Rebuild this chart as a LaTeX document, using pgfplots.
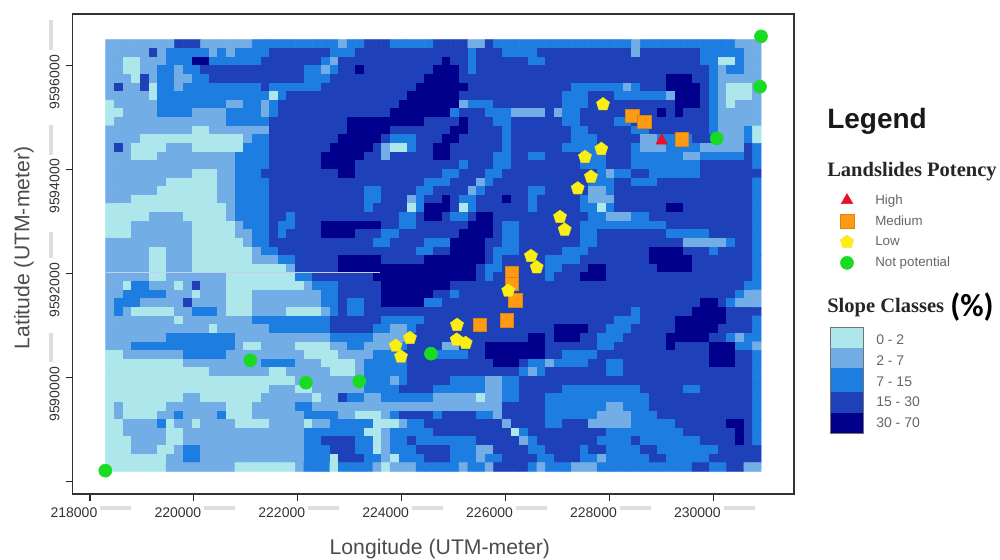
\documentclass[border=0pt]{standalone}
\usepackage{fontspec}
\setmainfont{Liberation Sans}
\newfontfamily\lserif{Liberation Serif}
\newfontfamily\carl{Carlito}
\usepackage{pgfplots}
\pgfplotsset{compat=1.18}
\usetikzlibrary{plotmarks}
\definecolor{cA}{RGB}{173,230,235}
\definecolor{cB}{RGB}{115,173,230}
\definecolor{cC}{RGB}{30,125,225}
\definecolor{cD}{RGB}{30,65,185}
\definecolor{cE}{RGB}{0,0,140}
\definecolor{mRed}{RGB}{232,16,42}
\definecolor{mOrange}{RGB}{255,154,20}
\definecolor{mYellow}{RGB}{250,238,20}
\definecolor{mGreen}{RGB}{26,219,36}
\newcount\coli \newcount\rowi
\newtoks\gridtoks \newtoks\rowtoks
\def\emit#1{\edef\tmp{\the\rowtoks\the\numexpr218385+166*\coli\relax\space\the\numexpr9596417-166*\rowi\relax\space#1\noexpand\\}\rowtoks\expandafter{\tmp}\advance\coli 1 \def\lastc{#1}}
\def\parse#1{\ifx#1\relax\else\ifnum\coli<\limit\relax\emit{#1}\fi\expandafter\parse\fi}
\def\pad{\ifnum\coli<\limit\relax\expandafter\emit\expandafter{\lastc}\expandafter\pad\fi}
\def\R#1#2{\coli=0 \rowtoks{}\def\limit{38}\parse#1\relax\pad\def\limit{76}\parse#2\relax\pad
 \edef\tmp{\the\gridtoks\the\rowtoks}\gridtoks\expandafter{\tmp}\advance\rowi 1 }
% slope class of every raster cell: 0 = 0-2, 1 = 2-7, 2 = 7-15, 3 = 15-30, 4 = 30-70
\R{11111111333111111222222222212233322222}{33331132222222222222222122222222222111}
\R{11111312222212122223333333222333333333}{33332333222233333333333133333332222211}
\R{11001112224422222233333332133333333333}{34332333333223333333333333333332200211}
\R{11001122122333333333333221233433333333}{44432333333333333333333333333333212211}
\R{11103122112233333333333222333333333334}{44433333333333333333333333344433211111}
\R{13113022122222222232222223333333333344}{44443333333333332222221233344443210001}
\R{11111022222222222220233333333333333444}{44433333333333322233322222214443210001}
\R{01111122222222112212333333333333334444}{44412223333333322233333333334443210111}
\R{00111122221111222212333333333333344444}{44233322211113122333333333434333211111}
\R{01111111111111222223333333334444444443}{33343332233333322333322333333333211111}
\R{11111111110011111113333333334444433333}{33443333233333332233333223333333211120}
\R{11110000000000001223333333344444322233}{34433333233333332223333311222233311120}
\R{13100001110000002223333333444443100233}{44333333233333322223333211122221111132}
\R{11100011111111122223333334444433133333}{44333332233223333222333222222112222232}
\R{11111111111111122223333334444333333333}{33323332233333333222333222222223333332}
\R{11111111110001122233333333344333333333}{32233322333333333332122332222223333333}
\R{11111110000001122223333333333333333332}{22333123333333333322233222333333333332}
\R{11111100000001122223333333333322333322}{33331233333223333311233333333333333332}
\R{11100000000001122223333333333322333123}{34322333433233333211133333333333333332}
\R{00000000000000122223333333333323333024}{44302333333233333220233333344333333332}
\R{00000111100000122223323333333333332234}{43223443333333333322111223333333333332}
\R{00011111110000012223223334444444332233}{33334443223333333222222222233333333332}
\R{00011111110000011223233334444333223333}{33344443223333333223333333322222333332}
\R{11111111110000001223333333333332233332}{22444433223333333223333333333111112332}
\R{11111001110000000122333333333333333322}{33444432223333322233333334444333233332}
\R{11111001110000000111223333344444333334}{44444432333332222333333334444433333332}
\R{11111001110000000000013333344444444444}{44444322333332233344333333444433333332}
\R{11111001111111000000002233333334444444}{44444323333332333444333333333333333332}
\R{11022111013111000000000122233333444444}{44333333333333333333333333333333333322}
\R{11222221110111000111111112233333444444}{33233333333333333333333333333333333211}
\R{12221111131111000111111112232233444442}{23333333333333333333333333333334432 11}
\R{12100000112221000111100001232233333333}{33333333333333333333333233333344443333}
\R{11111111011111111222222222333333222223}{33333333333333333333322233334444443332}
\R{11111111111101111112222222333332211233}{33333333333333444433222333334444433332}
\R{11111112222222211111111111222221111333}{33333333333443444332223333344444332122}
\R{11122222222222210011110000112211122333}{31133344444443333332233333343333444221}
\R{00111111122222111111111000011112223333}{22223344444443322223333333333333444332}
\R{00000000011111111122221110000122222333}{33333334443221222233223333333333444332}
\R{00000000000011111110011111000122222333}{33333333332123333333223333333333333332}
\R{00000000000000000000001111111122212333}{33222211223333333333333333333333333332}
\R{00000000000000000001110011111122223333}{22222211223333322222222233333223333332}
\R{00000000011000000011111101132211222222}{11111011223332222222222223333333333332}
\R{01000001111111000111112211111111111111}{11111111333332222222112223333333333332}
\R{01000011211112000111111222211000123333}{23333221333332222221111222333333333332}
\R{00111120110111100001111011222220001223}{33333333133332233311111222223333334432}
\R{00111110011111111111111222222200122222}{33333333302333333333222222222333333432}
\R{00011110011111111111111223333220122322}{22222333331233333332222322222223333432}
\R{00011100122111111111111222333220122233}{33222113333223333233222233222222233333}
\R{00000001122111111111111222033322102223}{33222122333322333221222223322222333333}
\R{00000001111111100000001222022221011122}{22212213333212221112222222222233223 31}
\begin{document}
\begin{tikzpicture}[x=1pt,y=1pt]
\path[use as bounding box] (0,0) rectangle (750pt,420pt);
\begin{axis}[
  at={(54.5pt,49.5pt)}, anchor=south west,
  scale only axis, width=541pt, height=360pt,
  xmin=217667, xmax=231552, ymin=9587763, ymax=9596994,
  scaled ticks=false,
  axis line style={draw=black!80,line width=0.9pt},
  tick align=outside, tick pos=left,
  major tick length=5.25pt,
  tick style={black!85,line width=0.9pt},
  xtick={218000,220000,222000,224000,226000,228000,230000},
  xticklabels={218000,220000,222000,224000,226000,228000,230000},
  ytick={9588000,9590000,9592000,9594000,9596000},
  yticklabels={,9590000,9592000,9594000,9596000},
  xticklabel style={font=\fontsize{10.5}{12}\selectfont,text=black!80,xshift=-12pt,yshift=-1.5pt},
  yticklabel style={font=\fontsize{10.5}{12}\selectfont,text=black!80,rotate=90,anchor=south,xshift=-12.5pt,yshift=1pt},
  xlabel={Longitude (UTM-meter)},
  ylabel={Latitude (UTM-meter)},
  every axis x label/.style={at={(axis description cs:0.509,-0.1146)},anchor=center,font=\fontsize{15.9}{18}\selectfont,text=black!70},
  every axis y label/.style={at={(axis description cs:-0.0675,0.5125)},rotate=90,anchor=center,font=\fontsize{15.9}{18}\selectfont,text=black!70},
  colormap={slope}{rgb255=(173,230,235) rgb255=(115,173,230) rgb255=(30,125,225) rgb255=(30,65,185) rgb255=(0,0,140)},
  point meta min=0, point meta max=4,
  legend cell align=left,
  legend style={at={(axis description cs:1.0635,0.63)},anchor=north west,draw=none,fill=none,
    font=\fontsize{10}{12}\selectfont,text=black!60,row sep=3pt,inner sep=0pt},
]
\edef\plotcmd{\noexpand\addplot[matrix plot*,forget plot,mesh/cols=76,point meta=explicit]
 table[row sep=\noexpand\\,x=x,y=y,meta=c] {x y c\noexpand\\ \the\gridtoks};}
\plotcmd
\addplot[forget plot,color=white!75!cD,line width=0.5pt] coordinates {(218302,9592019) (223583,9592019)};
\addplot[only marks,mark=triangle*,mark size=5pt,mark options={fill=mRed,draw=mRed}] coordinates {(229005,9594558)};
\addlegendentry{\hspace*{14pt}High}
\addplot[only marks,mark=square*,mark size=5.2pt,mark options={fill=mOrange,draw=mOrange!85!black,line width=0.3pt}] coordinates {
(228439,9595038)(228670,9594923)(229390,9594590)(226118,9592014)(226118,9591808)(226181,9591494)(225502,9591019)(226021,9591102)};
\addlegendentry{\hspace*{14pt}Medium}
\addplot[only marks,mark=pentagon*,mark size=5.2pt,mark options={fill=mYellow,draw=mYellow!85!orange,line width=0.3pt}] coordinates {
(227875,9595256)(227843,9594398)(227529,9594244)(227644,9593865)(227388,9593640)(227048,9593090)(227138,9592846)(226489,9592340)(226599,9592121)(226052,9591673)(225065,9591014)(225059,9590731)(225232,9590667)(224160,9590764)(223885,9590616)(223987,9590404)};
\addlegendentry{\hspace*{14pt}Low}
\addplot[only marks,mark=*,mark size=4.9pt,mark options={fill=mGreen,draw=mGreen}] coordinates {
(230917,9596563)(230898,9595596)(230064,9594602)(224564,9590462)(221086,9590333)(222158,9589904)(223184,9589929)(218295,9588212)};
\addlegendentry{\hspace*{14pt}Not potential}
\end{axis}
\begin{axis}[
  at={(0pt,0pt)}, anchor=south west,
  scale only axis, width=750pt, height=420pt,
  xmin=0, xmax=1000, ymin=0, ymax=560, y dir=reverse,
  hide axis, clip=false, unbounded coords=jump,
]
% faint smudges next to the tick labels
\addplot[draw=black!13,line width=3pt,forget plot] coordinates {
(100,508)(131,508)(nan,nan)(204,508)(235,508)(nan,nan)(308,508)(339,508)(nan,nan)(412,508)(443,508)(nan,nan)(516,508)(547,508)(nan,nan)(620,508)(651,508)(nan,nan)(724,508)(755,508)(nan,nan)
(51,20)(51,50)(nan,nan)(51,125)(51,155)(nan,nan)(51,232)(51,258)(nan,nan)(51,333)(51,362)};
% slope classes key
\addplot[fill=cA,draw=none] coordinates {(830,327)(863,327)(863,348)(830,348)} --cycle;
\addplot[fill=cB,draw=none] coordinates {(830,348)(863,348)(863,368)(830,368)} --cycle;
\addplot[fill=cC,draw=none] coordinates {(830,368)(863,368)(863,392)(830,392)} --cycle;
\addplot[fill=cD,draw=none] coordinates {(830,392)(863,392)(863,413)(830,413)} --cycle;
\addplot[fill=cE,draw=none] coordinates {(830,413)(863,413)(863,433)(830,433)} --cycle;
\addplot[draw=black!55,line width=0.6pt] coordinates {(830,327)(863,327)(863,433)(830,433)} --cycle;
\node[anchor=west,inner sep=0pt,font=\bfseries\fontsize{21}{24}\selectfont,text=black!90] at (axis cs:827,121) {Legend};
\node[anchor=west,inner sep=0pt,font=\lserif\bfseries\fontsize{15.4}{17}\selectfont,text=black!85] at (axis cs:827,172) {Landslides Potency};
\node[anchor=west,inner sep=0pt,font=\lserif\bfseries\fontsize{15.4}{17}\selectfont,text=black!85] at (axis cs:827,308) {Slope Classes};
\node[anchor=west,inner sep=0pt,font=\carl\bfseries\fontsize{24}{26}\selectfont,text=black] at (axis cs:950,307) {(\%)};
\foreach \t/\yy in {0 - 2/340,2 - 7/361,7 - 15/382,15 - 30/402,30 - 70/423}{
  \edef\temp{\noexpand\node[anchor=west,inner sep=0pt,font=\noexpand\fontsize{10.5}{12}\noexpand\selectfont,text=black!60] at (axis cs:876,\yy) {\t};}\temp}
\end{axis}
\end{tikzpicture}
\end{document}
